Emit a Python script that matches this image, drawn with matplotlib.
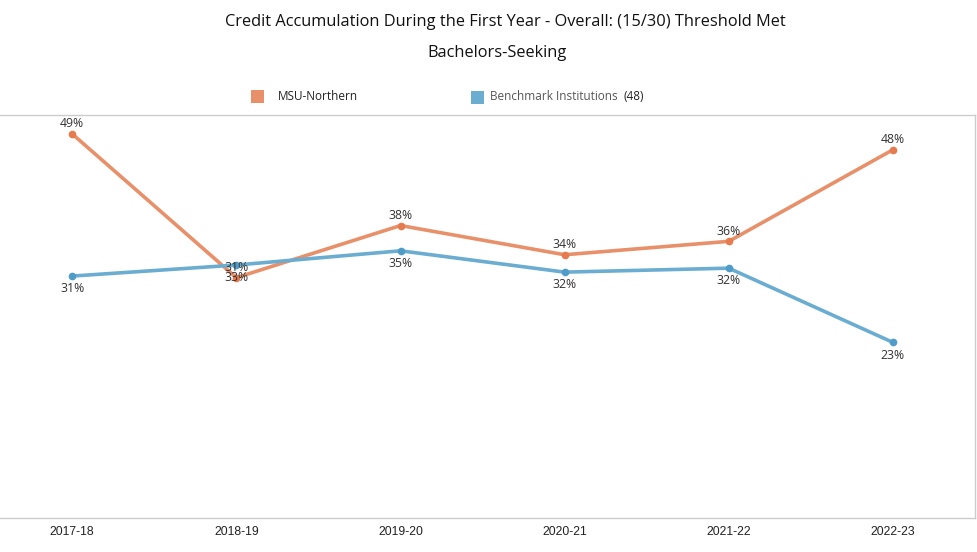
import matplotlib.pyplot as plt
from matplotlib.patches import Rectangle

years = ['2017-18', '2018-19', '2019-20', '2020-21', '2021-22', '2022-23']
msu_northern = [49.4, 31.2, 37.8, 34.1, 35.8, 47.4]
benchmark = [31.4, 32.8, 34.6, 31.9, 32.4, 23.0]
msu_labels = ['49%', '31%', '38%', '34%', '36%', '48%']
bench_labels = ['31%', '33%', '35%', '32%', '32%', '23%']

orange = '#E8906A'
blue = '#6AADD1'
grid_col = '#CCCCCC'

plt.rcParams['font.family'] = ['Open Sans', 'DejaVu Sans']

fig = plt.figure(figsize=(9.77, 5.52), dpi=100)
ax = fig.add_axes([0.0, 34 / 552, 975 / 977, 403 / 552])

x = list(range(len(years)))
ax.plot(x, msu_northern, color=orange, lw=2.6, marker='o', ms=4.5, mfc='#E57B4F', mec='#E57B4F', zorder=3)
ax.plot(x, benchmark, color=blue, lw=2.6, marker='o', ms=4.5, mfc='#4F9CC8', mec='#4F9CC8', zorder=3)

for i in x:
    ax.annotate(msu_labels[i], (i, msu_northern[i]), xytext=(0, 2.5), textcoords='offset points',
                ha='center', va='bottom', fontsize=8.8, color='#333333')
    ax.annotate(bench_labels[i], (i, benchmark[i]), xytext=(0, -4.5), textcoords='offset points',
                ha='center', va='top', fontsize=8.8, color='#333333')

ax.set_xlim(-0.44, 5.5)
ax.set_ylim(0.76, 51.8)
ax.set_yticks([])
ax.set_xticks(x)
ax.set_xticklabels(years, fontsize=8.8, color='#222222', family=['Liberation Sans', 'DejaVu Sans'])
ax.tick_params(axis='x', length=0, pad=6)
for side in ['top', 'right', 'bottom']:
    ax.spines[side].set_color(grid_col)
    ax.spines[side].set_linewidth(1)
ax.spines['left'].set_visible(False)

fig.text(505 / 977, 1 - 22 / 552, 'Credit Accumulation During the First Year - Overall: (15/30) Threshold Met',
         ha='center', va='center', fontsize=11.8, color='#111111')
fig.text(497 / 977, 1 - 53 / 552, 'Bachelors-Seeking', ha='center', va='center', fontsize=11.8, color='#111111')

# legend
fig.patches.append(Rectangle((251 / 977, 1 - 103 / 552), 13 / 977, 13 / 552, transform=fig.transFigure,
                             facecolor=orange, edgecolor='none'))
fig.text(278 / 977, 1 - 96 / 552, 'MSU-Northern', ha='left', va='center', fontsize=8.5, color='#222222')
fig.patches.append(Rectangle((471 / 977, 1 - 104 / 552), 13 / 977, 13 / 552, transform=fig.transFigure,
                             facecolor=blue, edgecolor='none'))
fig.text(490 / 977, 1 - 97 / 552, 'Benchmark Institutions', ha='left', va='center', fontsize=8.5, color='#555555')
fig.text(624 / 977, 1 - 97 / 552, '(48)', ha='left', va='center', fontsize=8.5, color='#222222')

fig.savefig('out.png', dpi=100)
